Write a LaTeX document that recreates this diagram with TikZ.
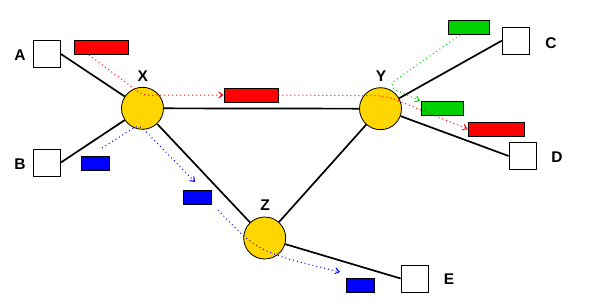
\documentclass[tikz,border=0pt]{standalone}
\usepackage{fontspec}
\setmainfont{Liberation Sans}
\usetikzlibrary{arrows.meta}
\definecolor{gold}{RGB}{255,214,0}
\definecolor{grn}{RGB}{0,208,0}
\begin{document}
\begin{tikzpicture}[x=1pt,y=-1pt,
 hub/.style={circle,draw=black,line width=0.8pt,fill=gold,minimum size=42pt,inner sep=0pt},
 host/.style={draw=black,line width=0.8pt,fill=white,minimum width=27pt,minimum height=27pt,inner sep=0pt},
 pkt/.style={draw=black,line width=0.9pt,inner sep=0pt,minimum height=14pt},
 lbl/.style={font=\fontsize{15.5}{17}\selectfont\bfseries,inner sep=0pt},
 link/.style={line width=1.7pt},
 flow/.style={line width=1pt,dash pattern=on 1pt off 3pt,-{Straight Barb[length=4pt,width=6pt]}},
]
\useasboundingbox (0,0) rectangle (603,307);
\fill[white] (0,0) rectangle (603,307);
% hosts
\node[host] (A) at (47,54) {};
\node[host] (B) at (47,162.5) {};
\node[host] (C) at (516,40.5) {};
\node[host] (D) at (522.5,156) {};
\node[host] (E) at (414.5,278.5) {};
% hubs
\node[hub] (X) at (142.5,108.3) {};
\node[hub] (Y) at (380.5,108.7) {};
\node[hub] (Z) at (264.7,238) {};
% links
\draw[link] (A.east) -- (X);
\draw[link] (B.east) -- (X);
\draw[link] (X) -- (Y);
\draw[link] (X) -- (Z);
\draw[link] (Y) -- (Z);
\draw[link] (Y) -- (C.west);
\draw[link] (Y) -- (D.west);
\draw[link] (Z) -- (E.west);
% packets
\node[pkt,fill=red,minimum width=54pt] (rA) at (101,47) {};
\node[pkt,fill=blue,minimum width=28pt] (bB) at (95,163) {};
\node[pkt,fill=red,minimum width=54pt] (rM) at (251,95) {};
\node[pkt,fill=grn,minimum width=41pt] (gT) at (468.5,27) {};
\node[pkt,fill=grn,minimum width=42pt] (gM) at (442,108.5) {};
\node[pkt,fill=red,minimum width=56pt] (rR) at (496,129) {};
\node[pkt,fill=blue,minimum width=28pt] (bM) at (197,197) {};
\node[pkt,fill=blue,minimum width=28pt] (bE) at (360,285) {};
% labels
\node[lbl] (lA) at (20,55.5) {A};
\node[lbl] (lB) at (20,164.5) {B};
\node[lbl] (lX) at (142.7,76) {X};
\node[lbl] (lY) at (381,76) {Y};
\node[lbl] (lZ) at (265,205.5) {Z};
\node[lbl] (lC) at (551,43) {C};
\node[lbl] (lD) at (557,157) {D};
\node[lbl] (lE) at (449,279) {E};
% flow coordinates
\coordinate (r1s) at (89,55);
\coordinate (r1k) at (143,95.3);
\coordinate (r2k) at (386,95.8);
\coordinate (g1s) at (460,35);
\coordinate (g1k) at (387,86);
\coordinate (g1e) at (420,101);
\coordinate (b1s) at (102,148);
\coordinate (b1k) at (139,124.5);
\coordinate (b1e) at (195,182);
\coordinate (b2s) at (218,210);
\coordinate (b2e) at (340,272);
% flows
\draw[flow,red,rounded corners=6pt] (r1s) -- (r1k) -- (rM.west);
\draw[flow,red,rounded corners=10pt] (rM.east) -- (r2k) -- (rR.west);
\draw[flow,grn,rounded corners=10pt] (g1s) -- (g1k) -- (g1e);
\draw[flow,blue,rounded corners=6pt] (b1s) -- (b1k) -- (b1e);
\draw[flow,blue] (b2s) .. controls (258,252) .. (b2e);
\end{tikzpicture}
\end{document}
